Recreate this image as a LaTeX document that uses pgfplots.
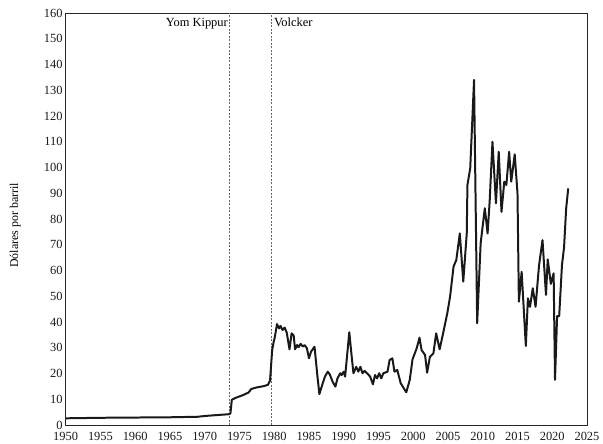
\documentclass[border=0pt]{standalone}
\usepackage{pgfplots}
\pgfplotsset{compat=1.18}
\usepackage{fontspec}
\setmainfont{Liberation Serif}
\begin{document}
\begin{tikzpicture}
\useasboundingbox (-65.7bp,-19bp) rectangle (537.3bp,425bp);
\begin{axis}[
  at={(0,0)}, anchor=south west,
  scale only axis, width=521.3bp, height=412bp,
  xmin=1950, xmax=2025, ymin=0, ymax=160,
  xtick={1950,1955,...,2025}, ytick={0,10,...,160},
  major tick length=0pt,
  axis line style={black!85, line width=0.7pt},
  /pgf/number format/assume math mode=true,
  /pgf/number format/set thousands separator={},
  tick label style={font=\fontsize{12.5}{14}\selectfont, black!90},
  yticklabel style={inner sep=1bp, xshift=-2bp},
  xticklabel style={yshift=-6bp, inner sep=1bp},
  ylabel={Dólares por barril},
  ylabel style={at={(axis description cs:-0.097,0.485)}, anchor=center, font=\fontsize{12}{14}\selectfont},
  clip=false,
]
\addplot[black!60, dashed, line width=0.6pt, dash pattern=on 2pt off 1.5pt] coordinates {(1973.6,0) (1973.6,160)};
\addplot[black!60, dashed, line width=0.6pt, dash pattern=on 2pt off 1.5pt] coordinates {(1979.6,0) (1979.6,160)};
\node[anchor=north east, font=\fontsize{12.5}{14}\selectfont, inner sep=1bp] at (axis cs:1973.5,158.5) {Yom Kippur};
\node[anchor=north west, font=\fontsize{12.5}{14}\selectfont, inner sep=1bp] at (axis cs:1979.8,158.5) {Volcker};
\addplot[black!90, line width=2pt, line join=round] coordinates {
(1950,2.6) (1955,2.8) (1960,2.9) (1965,3.0) (1969,3.2) (1970,3.5) (1973.5,4.2) (1973.7,4.5)
(1973.9,9.8) (1974.5,10.6) (1975.5,11.6) (1976.3,12.6) (1976.7,14.0) (1977.5,14.6) (1978.5,15.1)
(1979.1,15.6) (1979.4,17.3) (1979.7,29.0) (1979.9,32) (1980.1,34.3) (1980.4,39.2) (1980.7,37.5)
(1980.9,38.5) (1981.2,36.9) (1981.5,37.8) (1981.8,35.9) (1982.2,29.4) (1982.5,35.6) (1982.8,34.8)
(1983.0,29.4) (1983.3,31.1) (1983.5,30.2) (1983.8,31.5) (1984.1,30.5) (1984.4,31.0) (1984.7,29.8)
(1985.0,25.9) (1985.3,28.5) (1985.8,30.4) (1986.2,19.4) (1986.5,12.0) (1986.9,15.5) (1987.3,18.8)
(1987.7,20.7) (1988.0,19.6) (1988.4,16.8) (1988.8,14.9) (1989.1,18.1) (1989.5,20.1) (1989.7,19.4)
(1990.0,20.7) (1990.2,18.8) (1990.8,36.0) (1991.1,27.8) (1991.4,20.1) (1991.8,22.6) (1992.1,20.7)
(1992.4,22.6) (1992.7,20.1) (1993.0,21.0) (1993.4,20.0) (1993.8,18.8) (1994.2,15.8) (1994.5,19.4)
(1994.8,18.1) (1995.1,20.1) (1995.4,18.1) (1995.7,20.1) (1996.3,20.7) (1996.6,25.2) (1997.0,25.9)
(1997.3,20.7) (1997.7,21.4) (1998.2,16.2) (1999.0,12.7) (1999.5,17.5) (1999.9,25.5) (2000.5,29.8)
(2000.9,33.9) (2001.2,29.1) (2001.7,27.2) (2002.0,20.3) (2002.4,26.5) (2002.9,27.8) (2003.3,35.6)
(2003.8,29.4) (2004.3,35.6) (2004.9,43.4) (2005.3,49.8) (2005.8,61.5) (2006.2,64.1) (2006.7,74.4)
(2007.2,55.7) (2007.7,74.4) (2007.8,93.2) (2008.2,99.7) (2008.75,134) (2009.2,39.5) (2009.7,70.6)
(2010.3,84.2) (2010.7,74.4) (2011.0,87) (2011.4,110) (2011.9,86.1) (2012.3,106.1) (2012.7,82.8)
(2013.1,94.5) (2013.4,93.2) (2013.8,106.1) (2014.1,94.5) (2014.6,105.1) (2015.0,90) (2015.2,47.9)
(2015.6,59.5) (2016.2,30.7) (2016.5,49.2) (2016.8,45.9) (2017.2,53.1) (2017.6,45.9) (2018.1,62)
(2018.6,71.8) (2019.1,50.5) (2019.35,64.3) (2019.8,54.8) (2020.2,58.9) (2020.4,17.5) (2020.7,42.3)
(2021.0,42.3) (2021.4,62.1) (2021.7,69) (2022.0,84) (2022.3,91.9)
};
\end{axis}
\end{tikzpicture}
\end{document}
